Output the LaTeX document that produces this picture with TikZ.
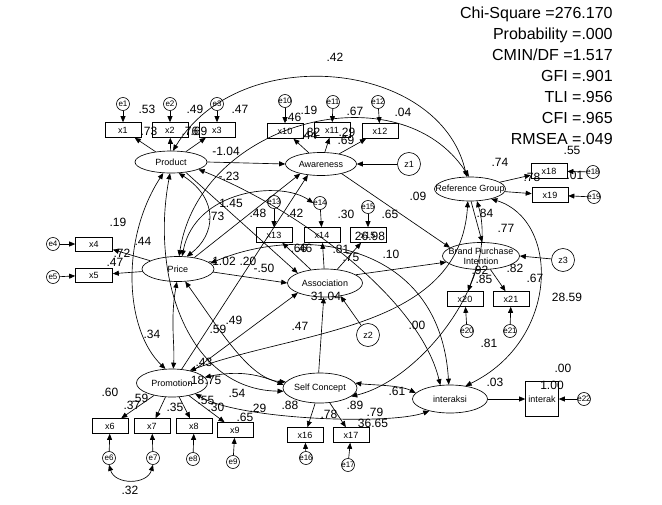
\documentclass[tikz,border=0pt]{standalone}
\usepackage{fontspec}
\setmainfont{Liberation Sans}
\usetikzlibrary{shapes.geometric,arrows.meta}
\begin{document}
\begin{tikzpicture}[x=1pt,y=-1pt,line width=0.65pt,
  every node/.style={inner sep=0pt},
  every label/.style={font=\fontsize{9}{10}\selectfont,align=center,inner sep=0pt},
  lat/.style={ellipse,draw},
  obs/.style={rectangle,draw,minimum width=36pt,minimum height=15pt,font=\fontsize{9}{10}\selectfont},
  err/.style={circle,draw,minimum size=13pt,label={[font=\fontsize{8}{8}\selectfont]center:#1}},
  dst/.style={circle,draw,minimum size=23pt,label={[font=\fontsize{9}{9}\selectfont]center:#1}},
  lb/.style={font=\fontsize{12}{12}\selectfont},
  fitstat/.style={font=\fontsize{16}{16}\selectfont,anchor=base east},
  pth/.style={-{Triangle[length=6pt,width=5pt]}},
  cov/.style={{Triangle[length=6pt,width=5pt]}-{Triangle[length=6pt,width=5pt]}}]
\useasboundingbox (0,0) rectangle (662,504);
\fill[white] (0,0) rectangle (662,504);

% latent variables
\node[lat,minimum width=72pt,minimum height=22pt,label={center:Product}] (P) at (171,162) {};
\node[lat,minimum width=71pt,minimum height=23pt,label={center:Awareness}] (A) at (321,164) {};
\node[lat,minimum width=72pt,minimum height=25pt,label={center:Price}] (Pr) at (178,269) {};
\node[lat,minimum width=75pt,minimum height=28pt,label={center:Association}] (As) at (325,283) {};
\node[lat,minimum width=71pt,minimum height=28pt,label={center:Promotion}] (Pm) at (172,383) {};
\node[lat,minimum width=74pt,minimum height=30pt,label={center:Self Concept}] (S) at (320,388) {};
\node[lat,minimum width=71pt,minimum height=24pt,label={center:Reference Group}] (R) at (470,189) {};
\node[lat,minimum width=77pt,minimum height=27pt,label={center:Brand Purchase\\Intention}] (B) at (481,256) {};
\node[lat,minimum width=75pt,minimum height=28pt,label={center:interaksi}] (I) at (450,399) {};

% observed
\node[obs] (x1) at (123,130) {x1};
\node[obs] (x2) at (170,130) {x2};
\node[obs] (x3) at (217,130) {x3};
\node[obs] (x10) at (285,131) {x10};
\node[obs] (x11) at (332,130) {x11};
\node[obs] (x12) at (380,131) {x12};
\node[obs] (x13) at (274,235) {x13};
\node[obs] (x14) at (322,235) {x14};
\node[obs] (x15) at (368,235) {x15};
\node[obs,minimum width=37pt,minimum height=14pt] (x4) at (94,244) {x4};
\node[obs,minimum width=37pt,minimum height=14pt] (x5) at (94,275) {x5};
\node[obs] (x6) at (110,426) {x6};
\node[obs] (x7) at (152,426) {x7};
\node[obs] (x8) at (194,426) {x8};
\node[obs] (x9) at (235,430) {x9};
\node[obs] (x16) at (305,435) {x16};
\node[obs] (x17) at (351,435) {x17};
\node[obs] (x18) at (549,171) {x18};
\node[obs] (x19) at (550,195) {x19};
\node[obs] (x20) at (465,299) {x20};
\node[obs] (x21) at (511,299) {x21};
\node[obs,minimum width=33pt,minimum height=35pt] (ik) at (542,399) {interak};

% errors
\node[err=e1] (e1) at (123,104) {};
\node[err=e2] (e2) at (170,104) {};
\node[err=e3] (e3) at (217,104) {};
\node[err=e10] (e10) at (285,101) {};
\node[err=e11] (e11) at (333,102) {};
\node[err=e12] (e12) at (378,102) {};
\node[err=e13] (e13) at (274,202) {};
\node[err=e14] (e14) at (320,203) {};
\node[err=e15] (e15) at (368,207) {};
\node[err=e4] (e4) at (53,244) {};
\node[err=e5] (e5) at (53,277) {};
\node[err=e6] (e6) at (109,458) {};
\node[err=e7] (e7) at (153,458) {};
\node[err=e8] (e8) at (193,459) {};
\node[err=e9] (e9) at (233,462) {};
\node[err=e16] (e16) at (306,458) {};
\node[err=e17] (e17) at (348,465) {};
\node[err=e18] (e18) at (593,172) {};
\node[err=e19] (e19) at (594,197) {};
\node[err=e20] (e20) at (467,331) {};
\node[err=e21] (e21) at (510,331) {};
\node[err=e22] (e22) at (584,399) {};
\node[dst=z1] (z1) at (409,164) {};
\node[dst=z2] (z2) at (368,335) {};
\node[dst=z3] (z3) at (563,260) {};

% measurement paths
\foreach \l/\b in {P/x1,P/x2,P/x3,A/x10,A/x11,A/x12,As/x13,As/x14,As/x15,Pr/x4,Pr/x5,Pm/x6,Pm/x7,Pm/x8,Pm/x9,S/x16,S/x17,R/x18,R/x19,B/x20,B/x21}
  \draw[pth] (\l) -- (\b);
\foreach \e/\b in {e1/x1,e2/x2,e3/x3,e10/x10,e11/x11,e12/x12,e13/x13,e14/x14,e15/x15,e4/x4,e5/x5,e6/x6,e7/x7,e8/x8,e9/x9,e16/x16,e17/x17,e18/x18,e19/x19,e20/x20,e21/x21,e22/ik}
  \draw[pth] (\e) -- (\b);
\draw[pth] (I) -- (ik);

% structural paths
\draw[pth] (P.east) -- (A.west);
\draw[pth] (Pr.35) -- (A.205);
\draw[pth] (Pm.55) -- (A.220);
\draw[pth] (P.-35) -- (As.160);
\draw[pth] (Pr.-5) -- (As.180);
\draw[pth] (Pm.30) -- (As.200);
\draw[pth] (S.95) -- (As.-95);
\draw[pth] (A.-25) -- (B.165);
\draw[pth] (As.15) -- (B.190);
\draw[pth] (R.-85) -- (B.85);
\draw[pth] (z1) -- (A.east);
\draw[pth] (z2) -- (As.-40);
\draw[pth] (z3) -- (B.east);

% covariances
\draw[cov] (P.80) .. controls (240,40) and (440,60) .. (R.105);
\draw[cov] (P.-55) .. controls (220,200) and (215,235) .. (Pr.55);
\draw[cov] (P.-125) .. controls (120,240) and (125,330) .. (Pm.115);
\draw[cov] (P.-95) .. controls (150,280) and (190,390) .. (S.185);
\draw[cov] (P.-15) .. controls (300,210) and (420,300) .. (I.125);
\draw[cov] (Pr.-95) .. controls (170,320) and (175,345) .. (Pm.85);
\draw[cov] (Pr.-60) .. controls (220,330) and (250,380) .. (S.170);
\draw[cov] (Pr.10) .. controls (300,225) and (440,240) .. (I.95);
\draw[cov] (Pr.85) .. controls (200,120) and (400,70) .. (R.95);
\draw[cov] (Pm.10) .. controls (240,370) and (260,375) .. (S.175);
\draw[cov] (Pm.-25) .. controls (240,420) and (390,425) .. (I.-150);
\draw[cov] (Pm.35) .. controls (300,330) and (460,330) .. (R.-100);
\draw[cov] (S.8) .. controls (370,385) and (400,385) .. (I.170);
\draw[cov] (S.-15) .. controls (420,380) and (500,280) .. (R.-60);
\draw[cov] (I.40) .. controls (560,340) and (560,220) .. (R.-25);
\draw[cov] (Pr.72) .. controls (195,190) and (280,180) .. (e14.west);
\draw[cov] (e6.south) .. controls (115,485) and (147,485) .. (e7.south);

% estimates
\foreach \t/\x/\y [count=\i] in {.53/147/109, .49/195/109, .47/240/109, .73/149/131, .76/190/131, .69/199/131, -1.04/226/151, -.23/229/176, 1.45/231/203, .73/216/216, .42/335/57,
 .46/293/117, .19/309/110, .67/355/111, .04/403/112, .44/309/135, .82/312/132, .29/347/132, .69/346/140,
 .48/258/213, .42/295/213, .30/346/214, .65/390/214, .09/418/196, .66/299/248, .46/304/248, .81/341/249, .75/351/257, .10/391/254, 31.04/326/296, 26.98/370/236,
 -1.02/222/261, .20/248/261, -.50/264/268,
 .19/118/222, .44/143/241, .72/122/253, .47/115/262,
 .34/152/334, .59/218/329, .49/234/320, .43/204/362, .18/196/380, .75/213/380, .54/237/393, .60/110/392, .59/140/398, .37/132/405, .35/175/407, .55/206/400, .30/216/407, .29/258/408, .65/245/417, .32/130/490,
 .47/300/326, .00/417/325, .61/397/391, .88/290/405, .78/329/414, .89/355/405, .79/375/412, 36.65/373/423,
 .74/500/162, .55/572/150, .78/532/177, .01/575/175, .84/485/213, .77/506/228,
 .92/480/270, .85/484/279, .82/515/268, .67/535/278, 28.59/567/297, .81/489/343,
 .00/563/368, 1.00/552/385, .03/495/382}
  \node[lb] (l\i) at (\x,\y) {\t};

% fit statistics
\node[fitstat] (f1) at (613,18) {Chi-Square =276.170};
\node[fitstat] (f2) at (613,39) {Probability =.000};
\node[fitstat] (f3) at (613,60) {CMIN/DF =1.517};
\node[fitstat] (f4) at (613,81) {GFI =.901};
\node[fitstat] (f5) at (613,102) {TLI =.956};
\node[fitstat] (f6) at (613,123) {CFI =.965};
\node[fitstat] (f7) at (613,144) {RMSEA =.049};
\end{tikzpicture}
\end{document}
